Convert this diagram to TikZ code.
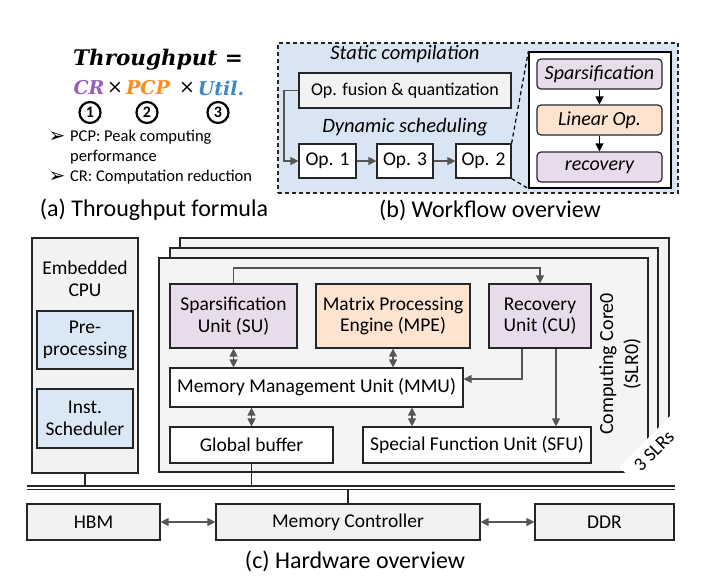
\documentclass[tikz,border=0pt]{standalone}
\usepackage{fontspec}
\setmainfont{Carlito}
\newfontfamily\formfont{DejaVu Serif}
\newfontfamily\symfont{DejaVu Sans}
\usetikzlibrary{arrows.meta,calc}
\definecolor{gfill}{HTML}{F2F2F2}
\definecolor{ffill}{HTML}{F4F4F4}
\definecolor{bluebg}{HTML}{D9E5F2}
\definecolor{bluebox}{HTML}{DAE7F4}
\definecolor{purp}{HTML}{E8DBEC}
\definecolor{orng}{HTML}{FCE4D0}
\definecolor{arrgray}{HTML}{555555}
\definecolor{crc}{HTML}{9B5CC0}
\definecolor{pcpc}{HTML}{FF8A1E}
\definecolor{utilc}{HTML}{3F87C8}
\begin{document}
\begin{tikzpicture}[x=1pt,y=-1pt,
  font=\fontsize{19.5}{21.5}\selectfont,
  box/.style={draw=black!85, line width=1.2pt, inner sep=1pt, align=center},
  rbox/.style={box, rounded corners=4pt, font=\itshape\fontsize{20}{22}\selectfont},
  frame/.style={draw=black!85, line width=1.2pt, fill=ffill},
  arr/.style={draw=arrgray, line width=1.3pt, -{Triangle[length=8pt,width=8pt]}},
  darr/.style={draw=arrgray, line width=1.3pt, {Triangle[length=8pt,width=8pt]}-{Triangle[length=8pt,width=8pt]}},
  barr/.style={draw=black, line width=1.3pt, -{Triangle[length=8pt,width=8pt]}},
  captext/.style={font=\fontsize{24}{26}\selectfont},
  numtext/.style={inner sep=0pt, font=\bfseries\fontsize{16}{16}\selectfont},
  numring/.style={draw=black, line width=2.2pt},
  form/.style={font=\formfont\bfseries\itshape\fontsize{21.5}{24}\selectfont, inner sep=0pt},
  form2/.style={font=\formfont\bfseries\itshape\fontsize{19}{22}\selectfont, inner sep=0pt},
  bul/.style={anchor=west, font=\fontsize{16.5}{18}\selectfont, inner sep=0pt},
  bulsym/.style={font=\symfont\fontsize{20}{20}\selectfont, inner sep=0pt},
]
\useasboundingbox (0,0) rectangle (706,582);

% ---------- (a) formula ----------
\node[form] (thr) at (158,60) {Throughput =};
\node[form2, text=crc] (cr) at (89,88) {CR};
\node[form2, font=\formfont\fontsize{19}{22}\selectfont] (x1) at (115,88) {×};
\node[form2, text=pcpc] (pcp) at (148,88) {PCP};
\node[form2, font=\formfont\fontsize{19}{22}\selectfont] (x2) at (187,88) {×};
\node[form2, text=utilc] (util) at (221,88) {Util.};
\node[numtext] (n1) at (90,112.5) {1};
\node[numtext] (n2) at (147,112.5) {2};
\node[numtext] (n3) at (218,112.5) {3};
\draw[numring] (n1.center) circle[radius=10.5pt];
\draw[numring] (n2.center) circle[radius=10.5pt];
\draw[numring] (n3.center) circle[radius=10.5pt];
\node[bulsym] (a1) at (57,137) {➢};
\node[bul] (b1) at (70,137) {PCP: Peak computing};
\node[bul] (b1b) at (70,157) {performance};
\node[bulsym] (a2) at (57,177) {➢};
\node[bul] (b2) at (70,177) {CR: Computation reduction};
\node[captext] (capa) at (154,210) {(a) Throughput formula};

% ---------- (b) workflow ----------
\node[draw=black!85, line width=1.2pt, dash pattern=on 4pt off 3pt, fill=bluebg,
      minimum width=400pt, minimum height=150pt] (wf) at (478,118) {};
\node[font=\itshape\fontsize{20.5}{22}\selectfont] (stat) at (405,54) {Static compilation};
\node[box, fill=gfill, minimum width=212pt, minimum height=35pt, font=\fontsize{18}{20}\selectfont] (fus) at (405,90.5) {Op. fusion \& quantization};
\node[font=\itshape\fontsize{20.5}{22}\selectfont] (dyn) at (405,127) {Dynamic scheduling};
\node[box, fill=white, minimum width=57pt, minimum height=34pt] (op1) at (327.5,161) {Op. 1};
\node[box, fill=white, minimum width=56pt, minimum height=34pt] (op3) at (405,161) {Op. 3};
\node[box, fill=white, minimum width=55pt, minimum height=34pt] (op2) at (483.5,161) {Op. 2};
\node[box, fill=white, line width=1.3pt, draw=black, minimum width=142pt, minimum height=136pt] (ins) at (600,120) {};
\node[rbox, fill=purp, minimum width=125pt, minimum height=30pt] (sp) at (599.5,74) {Sparsification};
\node[rbox, fill=orng, minimum width=125pt, minimum height=30pt] (lin) at (599.5,120) {Linear Op.};
\node[rbox, fill=purp, minimum width=125pt, minimum height=30pt] (rec) at (599.5,167) {recovery};
\coordinate (wfx) at (284,0);
\draw[arr] (fus.west) -- (fus.west -| wfx) |- (op1.west);
\draw[arr] (op1) -- (op3);
\draw[arr] (op3) -- (op2);
\draw[barr] (sp) -- (lin);
\draw[barr] (lin) -- (rec);
\draw[black, line width=1.2pt, dash pattern=on 4pt off 3pt] (op2.north east) -- (ins.north west);
\draw[black, line width=1.2pt, dash pattern=on 4pt off 3pt] (op2.south east) -- (ins.south west);
\node[captext] (capb) at (490,210) {(b) Workflow overview};

% ---------- (c) hardware ----------
\node[box, fill=gfill, minimum width=106pt, minimum height=235pt] (cpu) at (85,355.5) {};
\node[align=center] (cput) at (85,279) {Embedded\\CPU};
\node[box, fill=bluebox, minimum width=96pt, minimum height=58pt] (pre) at (85,340) {Pre-\\processing};
\node[box, fill=bluebox, minimum width=96pt, minimum height=59pt] (inst) at (85,418.5) {Inst.\\Scheduler};

\node[frame, minimum width=489pt, minimum height=214pt] (slr3) at (424.5,345) {};
\node[frame, minimum width=488pt, minimum height=214pt] (slr2) at (414,355) {};
\node[frame, minimum width=489pt, minimum height=214pt] (core) at (403.5,365) {};
\node[fill=white, rotate=45, minimum width=76pt, minimum height=31pt, inner sep=0pt] (slrbg) at (657,451) {};
\node[rotate=45, inner sep=0pt, font=\fontsize{19}{20}\selectfont] (slrs) at (654,451) {3 SLRs};
\node[rotate=90, align=center, font=\fontsize{20}{25}\selectfont] (cct) at (620,364) {Computing Core0\\(SLR0)};

\node[box, fill=purp, minimum width=127pt, minimum height=64pt] (su) at (233.5,316) {Sparsification\\Unit (SU)};
\node[box, fill=orng, minimum width=154pt, minimum height=64pt] (mpe) at (393,316) {Matrix Processing\\Engine (MPE)};
\node[box, fill=purp, minimum width=102pt, minimum height=64pt] (cu) at (540,316) {Recovery\\Unit (CU)};
\node[box, fill=white, minimum width=293pt, minimum height=39pt] (mmu) at (316.5,387.5) {Memory Management Unit (MMU)};
\node[box, fill=white, minimum width=163pt, minimum height=36pt] (gb) at (251.5,445) {Global buffer};
\node[box, fill=white, minimum width=228pt, minimum height=36pt] (sfu) at (477,445) {Special Function Unit (SFU)};

\coordinate (topy) at (0,268);
\coordinate (cuy) at (0,379);
\coordinate (xa) at (522,0);
\coordinate (xb) at (556,0);
\coordinate (xc) at (412,0);
\draw[arr] (su.north) -- (su.north |- topy) -| (cu.north);
\draw[darr] (su.south) -- (su.south |- mmu.north);
\draw[darr] (mpe.south) -- (mpe.south |- mmu.north);
\draw[darr] (gb.north |- mmu.south) -- (gb.north);
\draw[darr] (xc |- mmu.south) -- (xc |- sfu.north);
\draw[arr] (xa |- cu.south) -- (xa |- cuy) -- (mmu.east |- cuy);
\draw[arr] (xb |- cu.south) -- (xb |- sfu.north);

% bus
\coordinate (bus1l) at (27,486);
\coordinate (bus1r) at (675,486);
\coordinate (bus2l) at (27,489.5);
\coordinate (bus2r) at (675,489.5);
\draw[black!85, line width=1.2pt] (bus1l) -- (bus1r);
\draw[black!85, line width=1.2pt] (bus2l) -- (bus2r);
\draw[black!85, line width=1.2pt] (cpu.south) -- (cpu.south |- bus1l);
\draw[black!85, line width=1.2pt] (gb.south) -- (gb.south |- bus1l);

\node[box, fill=gfill, minimum width=133pt, minimum height=36pt] (hbm) at (93.5,522) {HBM};
\node[box, fill=gfill, minimum width=264pt, minimum height=36pt] (mc) at (348,522) {Memory Controller};
\node[box, fill=gfill, minimum width=139pt, minimum height=36pt] (ddr) at (604.5,522) {DDR};
\draw[black!85, line width=1.2pt] (mc.north) -- (mc.north |- bus2l);
\draw[darr] (hbm.east) -- (mc.west);
\draw[darr] (mc.east) -- (ddr.west);
\node[captext] (capc) at (355,561) {(c) Hardware overview};
\end{tikzpicture}
\end{document}
